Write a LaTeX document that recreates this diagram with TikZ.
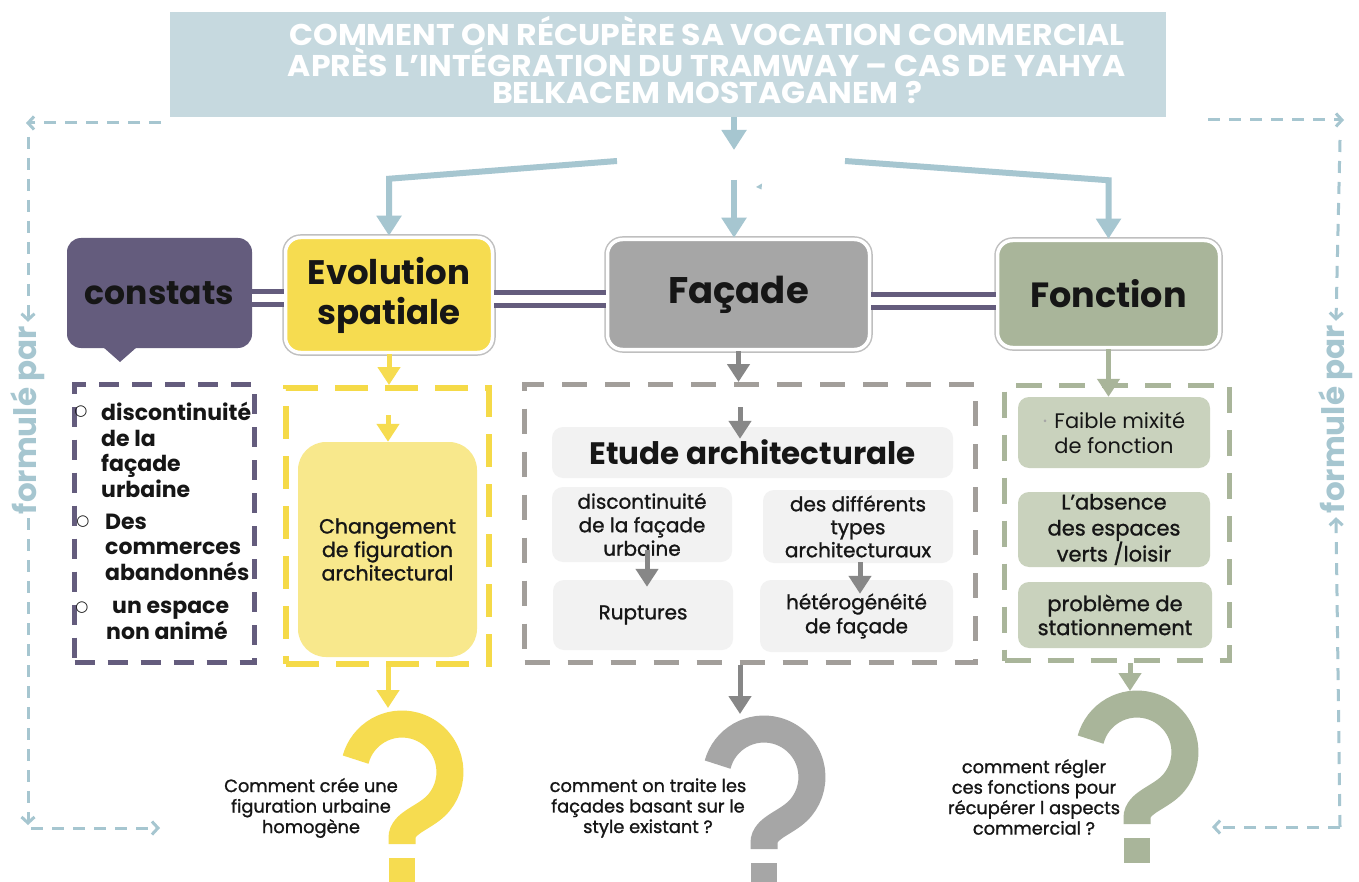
\documentclass[tikz,border=0pt]{standalone}
\usepackage{fontspec}
\setmainfont{Poppins}
\newfontfamily\semib{Poppins}[FakeBold=1.2]
\newfontfamily\titlef{Poppins}[FakeStretch=1.05]
\newfontfamily\symf{DejaVu Sans}
\usetikzlibrary{arrows.meta,calc}
\definecolor{ttl}{HTML}{C6D9DF}
\definecolor{blu}{HTML}{A6C6D0}
\definecolor{pur}{HTML}{645C7D}
\definecolor{yel}{HTML}{F6DC50}
\definecolor{yelL}{HTML}{F8E88C}
\definecolor{yelD}{HTML}{F5DA48}
\definecolor{gry}{HTML}{A6A6A6}
\definecolor{gryD}{HTML}{A29E9A}
\definecolor{gryA}{HTML}{878787}
\definecolor{gryL}{HTML}{F2F2F2}
\definecolor{sag}{HTML}{A9B59A}
\definecolor{sagL}{HTML}{C9D2BD}
\definecolor{ink}{HTML}{161616}
\newcommand\fs[2]{\fontsize{#1}{#2}\selectfont}
% big question mark drawn as a shape: colour, centre of the hook
\newcommand\bigqm[3]{%
  \begin{scope}[shift={(#2,#3)}, color=#1]
    \draw[line width=27pt] (-46.4,-12.4) arc[start angle=195, end angle=400, radius=48]
      .. controls (24,46) and (0,50) .. (0,66) -- (0,72);
    \fill (-13,86) rectangle (13,111);
  \end{scope}}
\begin{document}
\begin{tikzpicture}[x=1pt,y=-1pt,
 mainbox/.style={rounded corners=15pt, draw=white, line width=3.5pt, preaction={draw=black!25, line width=6.5pt}, font=\bfseries\fs{35}{40}, text=ink, align=center, inner sep=0pt},
 dbl/.style={draw=pur, line width=5pt, double=white, double distance=8pt},
 pdash/.style={draw=pur, line width=5pt, dash pattern=on 20pt off 13pt, inner sep=0pt},
 ydash/.style={draw=yelD, line width=6pt, dash pattern=on 33pt off 17pt, inner sep=0pt},
 gdash/.style={draw=gryD, line width=5pt, dash pattern=on 25pt off 18pt, inner sep=0pt},
 sdash/.style={draw=sag, line width=5pt, dash pattern=on 26pt off 17pt, inner sep=0pt},
 subbox/.style={rounded corners=11pt, inner sep=0pt, align=center, text=ink},
 barrow/.style={draw=blu, line width=6pt, -{Triangle[width=24pt,length=20pt]}},
 yarrow/.style={draw=yel, line width=5pt, -{Triangle[width=22pt,length=18pt]}},
 garrow/.style={draw=gryA, line width=5pt, -{Triangle[width=22pt,length=18pt]}},
 sarrow/.style={draw=sag, line width=5pt, -{Triangle[width=22pt,length=18pt]}},
 loopline/.style={draw=blu, line width=3pt, dash pattern=on 12pt off 9pt},
 barb/.style={-{Straight Barb[length=6pt,width=13pt]}},
 listtxt/.style={font=\bfseries\fs{22}{25.5}, align=left, inner sep=0pt, anchor=west, text=ink},
 bul/.style={font=\symf\fs{15}{15}, inner sep=0pt, text=ink},
 qtext/.style={font=\semib\fs{17.8}{20.5}, align=center, inner sep=0pt, text=ink},
 formule/.style={font=\bfseries\fs{31}{31}, text=blu, rotate=90, inner sep=4pt},
]
\useasboundingbox (0,0) rectangle (1359,882);
\fill[white] (0,0) rectangle (1359,882);

% title
\node[fill=ttl, minimum width=996, minimum height=105, inner sep=0pt] (title) at (668,64.5) {};
\node[font=\titlef\bfseries\fs{30}{27.5}, text=white, align=center, inner sep=0pt] (ttext) at (707,60)
 {COMMENT ON RÉCUPÈRE SA VOCATION COMMERCIAL\\APRÈS L’INTÉGRATION DU TRAMWAY – CAS DE YAHYA\\BELKACEM MOSTAGANEM ?};

% main boxes
\node[fill=pur, rounded corners=14pt, minimum width=185, minimum height=110, inner sep=0pt, font=\bfseries\fs{33}{38}, text=ink] (con) at (159.5,293) {constats};
\fill[pur] (103,347) -- (137,347) -- (120,362) -- cycle;
\node[mainbox, fill=yel, minimum width=207, minimum height=115, font=\bfseries\fs{34}{40}] (evo) at (389,295) {Evolution\\spatiale};
\node[mainbox, fill=gry, minimum width=262, minimum height=110, font=\bfseries\fs{37}{40}] (fac) at (738.5,294.5) {\raisebox{-6pt}{Façade}};
\node[mainbox, fill=sag, minimum width=222, minimum height=107, font=\bfseries\fs{35}{40}] (fon) at (1108.5,294) {\raisebox{-2pt}{Fonction}};

% double connectors
\coordinate (m1) at (0,298.5);
\coordinate (m2) at (0,299.5);
\coordinate (m3) at (0,301.5);
\draw[dbl] (con.east |- m1) -- (evo.west |- m1);
\draw[dbl] (evo.east |- m2) -- (fac.west |- m2);
\draw[dbl] (fac.east |- m3) -- (fon.west |- m3);

% dashed containers
\node[pdash, minimum width=180, minimum height=278] (pbox) at (164.5,523.5) {};
\node[ydash, minimum width=203, minimum height=276] (ybox) at (387.5,526) {};
\node[gdash, minimum width=451, minimum height=278] (gbox) at (750,523.5) {};
\node[sdash, minimum width=225, minimum height=275] (sbox) at (1117,523) {};

% constats list
\node[bul] (b1) at (81,412) {○};
\node[listtxt] (l1) at (101,450) {discontinuité\\de la\\façade\\urbaine};
\node[bul] (b2) at (83,522) {○};
\node[listtxt] (l2) at (105,547) {Des\\commerces\\abandonnés};
\node[bul] (b3) at (82,608) {○};
\node[listtxt] (l3) at (106,620.5) {\hspace*{6pt}un espace\\non animé};

% evolution inner
\node[subbox, fill=yelL, rounded corners=28pt, minimum width=179, minimum height=215, font=\semib\fs{20.5}{23.5}] (yin) at (387.5,549.5) {Changement\\de figuration\\architectural};

% facade inner
\node[subbox, fill=gryL, minimum width=401, minimum height=51, font=\bfseries\fs{31}{34}] (etude) at (752.5,452.5) {Etude architecturale};
\node[subbox, fill=gryL, minimum width=180, minimum height=75, font=\semib\fs{20}{23.5}] (g1) at (642,524.5) {discontinuité\\de la façade\\urbaine};
\node[subbox, fill=gryL, minimum width=190, minimum height=73, font=\semib\fs{20}{23}] (g2) at (858,526.5) {des différents\\types\\architecturaux};
\node[subbox, fill=gryL, minimum width=180, minimum height=70, font=\semib\fs{20}{23.5}] (g3) at (643,615) {Ruptures};
\node[subbox, fill=gryL, minimum width=193, minimum height=72, font=\semib\fs{20}{24}] (g4) at (856.5,616) {hétérogénéité\\de façade};

% fonction inner
\node[subbox, fill=sagL, minimum width=192, minimum height=71, font=\fs{21}{25}] (s1) at (1114,432.5) {{\color{black!35}·}\hspace{7pt}Faible mixité\\de fonction};
\node[subbox, fill=sagL, minimum width=192, minimum height=75, font=\semib\fs{21}{26}] (s2) at (1114,529.5) {L’absence\\des espaces\\verts /loisir};
\node[subbox, fill=sagL, minimum width=194, minimum height=66, font=\semib\fs{21}{24}] (s3) at (1115,615) {problème de\\stationnement};

% question marks
\bigqm{yel}{402}{772}
\bigqm{gry}{764}{777}
\bigqm{sag}{1137}{752}
\node[qtext] (t1) at (311,808) {Comment crée une\\figuration urbaine\\homogène};
\node[qtext] (t2) at (648,808) {comment on traite les\\façades basant sur le\\style existant ?};
\node[qtext] (t3) at (1034,797) {comment régler\\ces fonctions pour\\récupérer l aspects\\commercial ?};

% blue arrows from title
\coordinate (hub) at (734,150);
\coordinate (lb) at (617,161);
\coordinate (mb) at (734,180);
\coordinate (rb) at (845,161);
\draw[barrow] (title.south -| hub) -- (hub);
\draw[barrow] (lb) -- ($(evo.north)+(0,-57)$) -- (evo.north);
\draw[barrow] (mb) -- (mb |- fac.north);
\draw[barrow] (rb) -- ($(fon.north)+(0,-58.5)$) -- (fon.north);
\fill[blu] (756,187) -- (762,183.5) -- (761.5,189.5) -- cycle;

% yellow arrows
\coordinate (ya) at (388,415);
\coordinate (yq) at (388,708);
\draw[yarrow] (evo.south) -- (evo.south |- ybox.north);
\draw[yarrow] (ya) -- (ya |- yin.north);
\draw[yarrow] (ybox.south -| yq) -- (yq);

% gray arrows
\coordinate (ga) at (740,407);
\coordinate (g1a) at (647,550);
\coordinate (g2a) at (860,562);
\coordinate (gq) at (740,714);
\draw[garrow] (fac.south) -- (fac.south |- gbox.north);
\draw[garrow] (ga) -- ($(ga |- etude.north)+(0,12)$);
\draw[garrow] (g1a) -- ($(g1a |- g3.north)+(0,7)$);
\draw[garrow] (g2a) -- ($(g2a |- g4.north)+(0,14)$);
\draw[garrow] (gbox.south -| gq) -- (gq);

% sage arrows
\coordinate (sq) at (1130,691);
\draw[sarrow] (fon.south) -- (fon.south |- s1.north);
\draw[sarrow] (sbox.south -| sq) -- (sq);

% formulé par loops
\node[formule] (fl) at (28,420) {formulé par};
\node[formule] (fr) at (1336,419) {formulé par};
\coordinate (lt0) at (161,123);
\coordinate (lt1) at (26,123);
\coordinate (lv0) at (28,137);
\coordinate (lv1) at (28,825);
\coordinate (lh0) at (31,828);
\coordinate (lh1) at (160,828);
\draw[loopline, barb] (lt0) -- (lt1);
\draw[loopline, barb] (lv0) -- (fl.east);
\draw[loopline, barb] (fl.west) -- (lv1);
\draw[loopline, barb] (lh0) -- (lh1);
\coordinate (rt0) at (1208,120);
\coordinate (rt1) at (1344,120);
\coordinate (rv0) at (1340,140);
\coordinate (rc) at (1340,827);
\coordinate (rh1) at (1212,827);
\draw[loopline, barb] (rt0) -- (rt1);
\draw[loopline, barb] (rv0) -- (fr.east);
\draw[loopline, barb] (rc) -- (fr.west);
\draw[loopline, barb] (rc) -- (rh1);
\end{tikzpicture}
\end{document}
